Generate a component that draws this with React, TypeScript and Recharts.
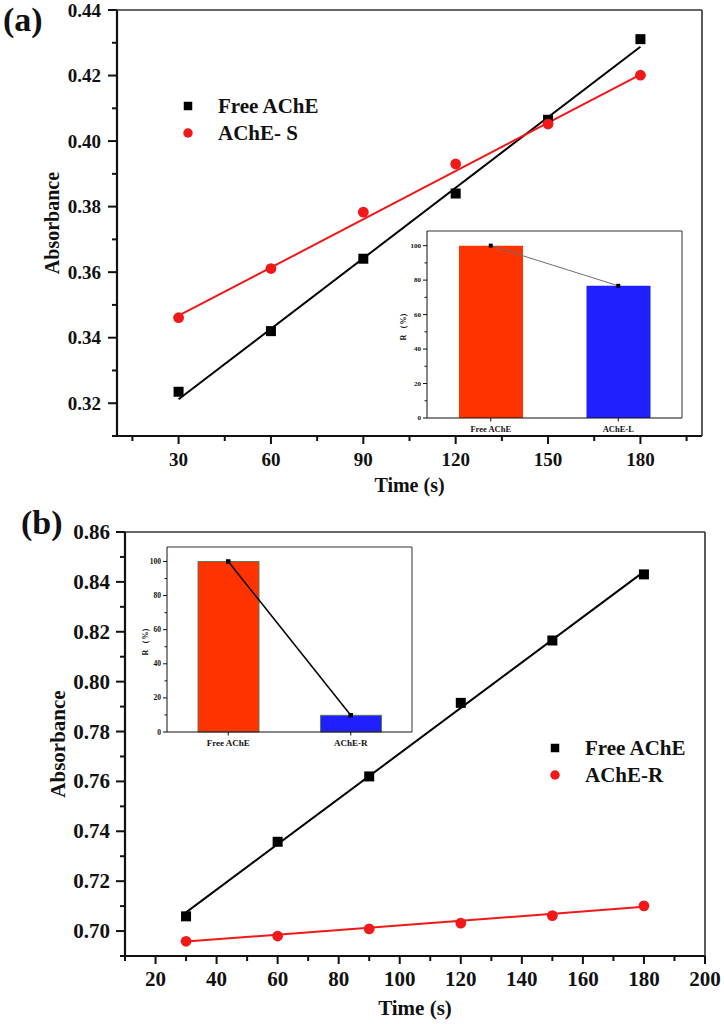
import { ComposedChart, XAxis, YAxis, Scatter, Line, Bar, Cell, Legend } from "recharts";

const SERIF = '"Liberation Serif", "Times New Roman", serif';
const INK = "#111";
const RED = "#f01818";

// ---- panel (a): absorbance vs time ----
const timeA = [30, 60, 90, 120, 150, 180];
const freeA = [0.3235, 0.342, 0.3641, 0.384, 0.4065, 0.4311];
const acheSA = [0.3461, 0.3611, 0.3783, 0.393, 0.4052, 0.4201];
const fitTimeA = [30, 180];
const fitFreeA = [0.3212, 0.4288];
const fitSA = [0.3467, 0.4203];
const xTicksA = [15, 30, 45, 60, 75, 90, 105, 120, 135, 150, 165, 180, 195];
const xMajorA = [30, 60, 90, 120, 150, 180];
const yTicksA = [0.31, 0.32, 0.33, 0.34, 0.35, 0.36, 0.37, 0.38, 0.39, 0.4, 0.41, 0.42, 0.43, 0.44];
const yMajorA = [0.32, 0.34, 0.36, 0.38, 0.4, 0.42, 0.44];

// inset (a): relative activity
const insetCatsA = ["Free AChE", "AChE-L"];
const insetValsA = [100, 76.7];

// ---- panel (b) ----
const timeB = [30, 60, 90, 120, 150, 180];
const freeB = [0.7059, 0.7358, 0.762, 0.7915, 0.8165, 0.843];
const acheRB = [0.6959, 0.698, 0.7009, 0.7032, 0.7062, 0.7101];
const fitTimeB = [30, 180];
const fitFreeB = [0.7075, 0.8441];
const fitRB = [0.6958, 0.7097];
const xTicksB = [10, 20, 30, 40, 50, 60, 70, 80, 90, 100, 110, 120, 130, 140, 150, 160, 170, 180, 190, 200];
const xMajorB = [20, 40, 60, 80, 100, 120, 140, 160, 180, 200];
const yTicksB = [0.69, 0.7, 0.71, 0.72, 0.73, 0.74, 0.75, 0.76, 0.77, 0.78, 0.79, 0.8, 0.81, 0.82, 0.83, 0.84, 0.85, 0.86];
const yMajorB = [0.7, 0.72, 0.74, 0.76, 0.78, 0.8, 0.82, 0.84, 0.86];

// inset (b)
const insetCatsB = ["Free AChE", "AChE-R"];
const insetValsB = [100, 9.8];

const insetTicks = [0, 10, 20, 30, 40, 50, 60, 70, 80, 90, 100];
const insetMajor = [0, 20, 40, 60, 80, 100];
const barColors = ["#ff3300", "#1f1fff"];

const pts = (xs: number[], ys: number[]) => xs.map((x, i) => ({ x, y: ys[i] }));

const squareShape = (s: number, fill: string) => (p: any) =>
  <rect x={p.cx - s / 2} y={p.cy - s / 2} width={s} height={s} fill={fill} />;
const circleShape = (r: number, fill: string) => (p: any) =>
  <circle cx={p.cx} cy={p.cy} r={r} fill={fill} />;

function XTick(props: any) {
  const { x, y, payload, majors, fs, gap } = props;
  const major = majors.includes(payload.value);
  return (
    <g>
      <line x1={x} x2={x} y1={y} y2={y + (major ? 8 : 5)} stroke={INK} strokeWidth={2} />
      {major && (
        <text x={x} y={y + gap} textAnchor="middle" dominantBaseline="central"
          fontFamily={SERIF} fontWeight={700} fontSize={fs} fill={INK}>
          {payload.value}
        </text>
      )}
    </g>
  );
}

function YTick(props: any) {
  const { x, y, payload, majors, fs, gap } = props;
  const major = majors.includes(payload.value);
  return (
    <g>
      <line x1={x} x2={x - (major ? 9 : 5)} y1={y} y2={y} stroke={INK} strokeWidth={2} />
      {major && (
        <text x={x - gap} y={y} textAnchor="end" dominantBaseline="central"
          fontFamily={SERIF} fontWeight={700} fontSize={fs} fill={INK}>
          {payload.value.toFixed(2)}
        </text>
      )}
    </g>
  );
}

function MarkerLegend(props: any) {
  const { payload, fs, sq, dia, order } = props;
  const items = (payload ?? [])
    .filter((p: any) => p.type === "square" || p.type === "circle")
    .sort((a: any, b: any) => order.indexOf(a.value) - order.indexOf(b.value));
  return (
    <div style={{ fontFamily: SERIF, fontWeight: 700, fontSize: fs, color: INK, lineHeight: 1 }}>
      {items.map((p: any) => (
        <div key={p.value} style={{ display: "flex", alignItems: "center", height: 26.7 }}>
          <svg width={16} height={16}>
            {p.type === "square"
              ? <rect x={8 - sq / 2} y={8 - sq / 2} width={sq} height={sq} fill={p.color} />
              : <circle cx={8} cy={8} r={dia / 2} fill={p.color} />}
          </svg>
          <span style={{ marginLeft: 22, whiteSpace: "pre" }}>{p.value}</span>
        </div>
      ))}
    </div>
  );
}

function InsetXTick(props: any) {
  const { x, y, payload, fs, gap } = props;
  return (
    <g>
      <line x1={x} x2={x} y1={y} y2={y + 3.5} stroke={INK} strokeWidth={1} />
      <text x={x} y={y + gap} textAnchor="middle" dominantBaseline="central"
        fontFamily={SERIF} fontWeight={700} fontSize={fs} fill={INK}>
        {payload.value}
      </text>
    </g>
  );
}

function InsetYTick(props: any) {
  const { x, y, payload, fs } = props;
  const major = insetMajor.includes(payload.value);
  return (
    <g>
      <line x1={x} x2={x - (major ? 4 : 2.5)} y1={y} y2={y} stroke={INK} strokeWidth={1} />
      {major && (
        <text x={x - 6} y={y} textAnchor="end" dominantBaseline="central"
          fontFamily={SERIF} fontWeight={700} fontSize={fs} fill={INK}>
          {payload.value}
        </text>
      )}
    </g>
  );
}

function Inset(props: any) {
  const { left, top, width, height, yw, cats, vals, barSize, lineColor, lineWidth, dot, labelOffset, fs, barStroke } = props;
  const data = cats.map((name: string, i: number) => ({ name, r: vals[i] }));
  return (
    <div style={{ position: "absolute", left, top }}>
      <ComposedChart width={width} height={height} data={data} margin={{ top: 9, right: 7, bottom: 0, left: 0 }}>
        <XAxis dataKey="name" type="category" height={22} interval={0} tickSize={0} tickMargin={0}
          tickLine={false} axisLine={{ stroke: INK, strokeWidth: 1 }} tick={<InsetXTick fs={fs + 1.5} gap={11} />} />
        <XAxis xAxisId="top" orientation="top" type="number" domain={[0, 1]} height={1}
          tick={false} tickLine={false} axisLine={{ stroke: "#333", strokeWidth: 1 }} />
        <YAxis type="number" domain={[0, 108.5]} ticks={insetTicks} interval={0} width={yw}
          tickSize={0} tickMargin={0} tickLine={false} axisLine={{ stroke: INK, strokeWidth: 1 }}
          tick={<InsetYTick fs={fs} />}
          label={{ value: "R （%）", angle: -90, position: "insideLeft", offset: labelOffset, fill: INK,
            style: { textAnchor: "middle", fontFamily: SERIF, fontWeight: 700, fontSize: 8 } }} />
        <YAxis yAxisId="right" orientation="right" type="number" domain={[0, 1]} width={1}
          tick={false} tickLine={false} axisLine={{ stroke: "#333", strokeWidth: 1 }} />
        <Bar dataKey="r" barSize={barSize} stroke={barStroke} strokeWidth={barStroke ? 1 : 0} isAnimationActive={false}>
          {data.map((d: any, i: number) => <Cell key={d.name} fill={barColors[i]} />)}
        </Bar>
        <Line dataKey="r" type="linear" stroke={lineColor} strokeWidth={lineWidth} isAnimationActive={false}
          activeDot={false} legendType="none"
          dot={(p: any) => <rect key={p.index} x={p.cx - dot / 2} y={p.cy - dot / 2} width={dot} height={dot} fill="#000" />} />
      </ComposedChart>
    </div>
  );
}

function MainPanel(props: any) {
  const {
    top, height, marginTop, marginRight, yw, xh, xDomain, yDomain, xTicks, xMajor, yTicks, yMajor,
    fs, yGap, xGap, titleFs, absOffset, timeOffset, lines, scatters, legendPos,
  } = props;
  return (
    <div style={{ position: "absolute", left: 0, top }}>
      <ComposedChart width={724} height={height} margin={{ top: marginTop, right: marginRight, bottom: 0, left: 0 }}>
        <XAxis dataKey="x" type="number" domain={xDomain} ticks={xTicks} interval={0} height={xh}
          allowDataOverflow tickSize={0} tickMargin={0} tickLine={false}
          axisLine={{ stroke: INK, strokeWidth: 2.2 }}
          tick={<XTick majors={xMajor} fs={fs} gap={xGap} />}
          label={{ value: "Time (s)", position: "insideBottom", offset: timeOffset, fill: INK,
            style: { fontFamily: SERIF, fontWeight: 700, fontSize: titleFs } }} />
        <XAxis xAxisId="top" orientation="top" type="number" domain={[0, 1]} height={1}
          tick={false} tickLine={false} axisLine={{ stroke: "#333", strokeWidth: 1.6 }} />
        <YAxis dataKey="y" type="number" domain={yDomain} ticks={yTicks} interval={0} width={yw}
          allowDataOverflow tickSize={0} tickMargin={0} tickLine={false}
          axisLine={{ stroke: INK, strokeWidth: 2.2 }}
          tick={<YTick majors={yMajor} fs={fs} gap={yGap} />}
          label={{ value: "Absorbance", angle: -90, position: "insideLeft", offset: absOffset, fill: INK,
            style: { textAnchor: "middle", fontFamily: SERIF, fontWeight: 700, fontSize: titleFs } }} />
        <YAxis yAxisId="right" orientation="right" type="number" domain={[0, 1]} width={1}
          tick={false} tickLine={false} axisLine={{ stroke: "#333", strokeWidth: 1.6 }} />
        {lines.map((l: any) => (
          <Line key={l.key} data={l.data} dataKey="y" type="linear" stroke={l.color} strokeWidth={2}
            dot={false} activeDot={false} legendType="none" isAnimationActive={false} />
        ))}
        {scatters.map((s: any) => (
          <Scatter key={s.name} name={s.name} data={s.data} fill={s.color} legendType={s.type}
            shape={s.type === "square" ? squareShape(10, s.color) : circleShape(5.4, s.color)}
            isAnimationActive={false} />
        ))}
        <Legend layout="vertical" align="center" verticalAlign="middle"
          wrapperStyle={{ left: legendPos[0], top: legendPos[1], width: "auto", height: "auto" }}
          content={<MarkerLegend fs={21} sq={8.5} dia={9.5} order={scatters.map((s: any) => s.name)} />} />
      </ComposedChart>
    </div>
  );
}

const panelLabel = (text: string, left: number, top: number) => (
  <div style={{ position: "absolute", left, top, fontFamily: SERIF, fontWeight: 700, fontSize: 34, lineHeight: "34px", color: INK }}>
    {text}
  </div>
);

export default function App() {
  return (
    <div style={{ position: "absolute", left: 0, top: 0, width: 724, height: 1024, background: "#fff" }}>
      <MainPanel
        top={0} height={500} marginTop={9} marginRight={21} yw={117} xh={64}
        xDomain={[10, 200]} yDomain={[0.31, 0.44]} xTicks={xTicksA} xMajor={xMajorA} yTicks={yTicksA} yMajor={yMajorA}
        fs={19} yGap={16} xGap={23} titleFs={20} absOffset={52} timeOffset={8}
        lines={[
          { key: "fitFreeA", data: pts(fitTimeA, fitFreeA), color: "#000" },
          { key: "fitSA", data: pts(fitTimeA, fitSA), color: RED },
        ]}
        scatters={[
          { name: "Free AChE", data: pts(timeA, freeA), color: "#000", type: "square" },
          { name: "AChE- S", data: pts(timeA, acheSA), color: RED, type: "circle" },
        ]}
        legendPos={[180, 93]}
      />
      <MainPanel
        top={500} height={524} marginTop={31} marginRight={18} yw={125} xh={68}
        xDomain={[10, 200]} yDomain={[0.69, 0.86]} xTicks={xTicksB} xMajor={xMajorB} yTicks={yTicksB} yMajor={yMajorB}
        fs={21} yGap={15} xGap={23} titleFs={21} absOffset={58} timeOffset={9}
        lines={[
          { key: "fitFreeB", data: pts(fitTimeB, fitFreeB), color: "#000" },
          { key: "fitRB", data: pts(fitTimeB, fitRB), color: RED },
        ]}
        scatters={[
          { name: "Free AChE", data: pts(timeB, freeB), color: "#000", type: "square" },
          { name: "AChE-R", data: pts(timeB, acheRB), color: RED, type: "circle" },
        ]}
        legendPos={[547, 235]}
      />
      <Inset left={380} top={221} width={310} height={219} yw={47} cats={insetCatsA} vals={insetValsA}
        barSize={64} lineColor="#6d6d6d" lineWidth={1} dot={4} labelOffset={23} fs={7} />
      <Inset left={127} top={537} width={293} height={217} yw={40} cats={insetCatsB} vals={insetValsB}
        barSize={61} lineColor="#000" lineWidth={1.5} dot={4.5} labelOffset={18} fs={7.5} barStroke="#5c7a5c" />
      {panelLabel("(a)", 3, 3)}
      {panelLabel("(b)", 21, 506)}
    </div>
  );
}
